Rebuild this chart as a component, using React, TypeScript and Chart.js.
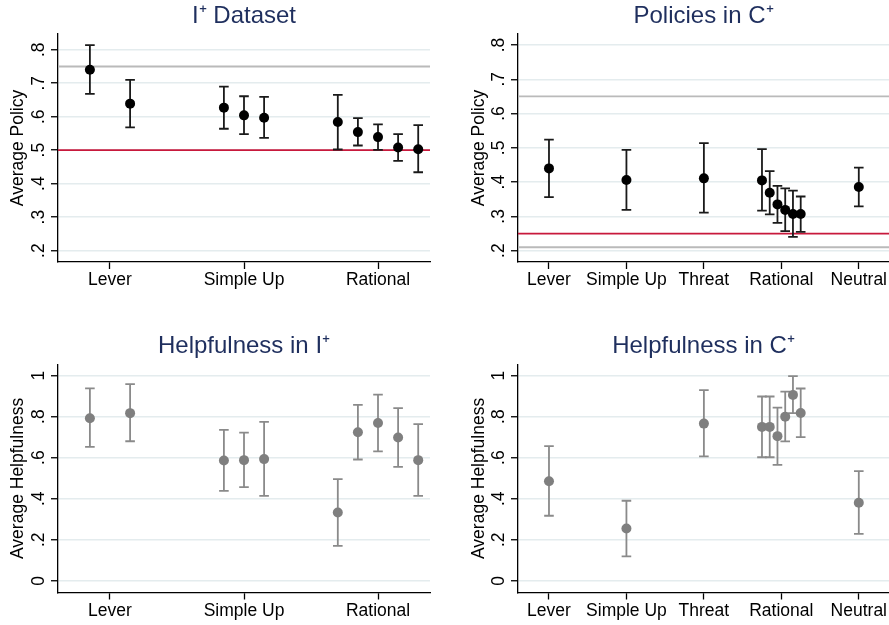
import React, { useEffect, useRef } from "react";
import { Chart, registerables } from "chart.js";

Chart.register(...registerables);

const FONT = '"Liberation Sans", Arial, Helvetica, sans-serif';

// ---------- data ----------
const categoriesI = ["Lever", "Simple Up", "Rational"];
const categoriesC = ["Lever", "Simple Up", "Threat", "Rational", "Neutral"];

// x positions of each estimate (category index with offsets)
const xI = [0.85, 1.15, 1.85, 2, 2.15, 2.7, 2.85, 3, 3.15, 3.3];
const xC = [1, 2, 3, 3.75, 3.85, 3.95, 4.05, 4.15, 4.25, 5];

// Panel 1: I+ Dataset (average policy)
const policyIMean = [0.74, 0.639, 0.627, 0.604, 0.597, 0.584, 0.554, 0.539, 0.508, 0.503];
const policyILow = [0.668, 0.568, 0.564, 0.548, 0.537, 0.502, 0.514, 0.501, 0.468, 0.434];
const policyIHigh = [0.814, 0.71, 0.69, 0.661, 0.659, 0.665, 0.596, 0.577, 0.548, 0.575];

// Panel 2: Policies in C+
const policyCMean = [0.44, 0.406, 0.411, 0.405, 0.369, 0.335, 0.319, 0.307, 0.307, 0.386];
const policyCLow = [0.356, 0.319, 0.311, 0.317, 0.306, 0.281, 0.257, 0.24, 0.255, 0.329];
const policyCHigh = [0.524, 0.494, 0.514, 0.496, 0.432, 0.389, 0.382, 0.375, 0.358, 0.442];

// Panel 3: Helpfulness in I+
const helpIMean = [0.792, 0.817, 0.586, 0.588, 0.593, 0.333, 0.724, 0.769, 0.698, 0.588];
const helpILow = [0.653, 0.68, 0.438, 0.456, 0.414, 0.17, 0.591, 0.631, 0.555, 0.414];
const helpIHigh = [0.938, 0.958, 0.735, 0.722, 0.774, 0.495, 0.857, 0.907, 0.841, 0.763];

// Panel 4: Helpfulness in C+
const helpCMean = [0.485, 0.255, 0.766, 0.75, 0.75, 0.705, 0.8, 0.906, 0.818, 0.38];
const helpCLow = [0.317, 0.119, 0.606, 0.602, 0.602, 0.565, 0.679, 0.817, 0.7, 0.229];
const helpCHigh = [0.656, 0.39, 0.929, 0.898, 0.898, 0.844, 0.922, 0.997, 0.937, 0.534];

// y tick values and labels
const policyTicks = [0.2, 0.3, 0.4, 0.5, 0.6, 0.7, 0.8];
const policyTickLabels = [".2", ".3", ".4", ".5", ".6", ".7", ".8"];
const helpTicks = [0, 0.2, 0.4, 0.6, 0.8, 1];
const helpTickLabels = ["0", ".2", ".4", ".6", ".8", "1"];

// reference lines
const refsIValues = [0.75, 0.5];
const refsIKinds = ["gray", "red"];
const refsCValues = [0.65, 0.25, 0.21];
const refsCKinds = ["gray", "red", "gray"];

// ---------- styles ----------
const TITLE_COLOR = "#1f2f5e";
const GRID_COLOR = "#e4ecee";
const REF_COLORS: Record<string, string> = { gray: "#bababa", red: "#c8193c" };

type Spec = {
  left: number;
  top: number;
  w: number;
  h: number;
  padRight: number;
  yW: number;
  xH: number;
  titlePadTop: number;
  titlePadBottom: number;
  yTitlePad: number;
  title: string;
  yTitle: string;
  cats: string[];
  xs: number[];
  mean: number[];
  low: number[];
  high: number[];
  xMin: number;
  xMax: number;
  yMin: number;
  yMax: number;
  yTicks: number[];
  yTickLabels: string[];
  refValues: number[];
  refKinds: string[];
  color: string;
  barColor: string;
};

const panels: Spec[] = [
  {
    left: 0, top: 0, w: 445, h: 312, padRight: 15, yW: 58, xH: 50,
    titlePadTop: 2.2, titlePadBottom: 3.0, yTitlePad: 7.5,
    title: "I\u207A Dataset", yTitle: "Average Policy", cats: categoriesI, xs: xI,
    mean: policyIMean, low: policyILow, high: policyIHigh,
    xMin: 0.612, xMax: 3.388, yMin: 0.166, yMax: 0.847,
    yTicks: policyTicks, yTickLabels: policyTickLabels,
    refValues: refsIValues, refKinds: refsIKinds, color: "#000000", barColor: "#1a1a1a",
  },
  {
    left: 445, top: 0, w: 444, h: 312, padRight: 0, yW: 73, xH: 50,
    titlePadTop: 2.2, titlePadBottom: 3.0, yTitlePad: 23.5,
    title: "Policies in C\u207A", yTitle: "Average Policy", cats: categoriesC, xs: xC,
    mean: policyCMean, low: policyCLow, high: policyCHigh,
    xMin: 0.6, xMax: 5.39, yMin: 0.167, yMax: 0.832,
    yTicks: policyTicks, yTickLabels: policyTickLabels,
    refValues: refsCValues, refKinds: refsCKinds, color: "#000000", barColor: "#1a1a1a",
  },
  {
    left: 0, top: 312, w: 445, h: 313, padRight: 15, yW: 58, xH: 32.5,
    titlePadTop: 20.3, titlePadBottom: 3.2, yTitlePad: 7.5,
    title: "Helpfulness in I\u207A", yTitle: "Average Helpfulness", cats: categoriesI, xs: xI,
    mean: helpIMean, low: helpILow, high: helpIHigh,
    xMin: 0.612, xMax: 3.388, yMin: -0.057, yMax: 1.055,
    yTicks: helpTicks, yTickLabels: helpTickLabels,
    refValues: [], refKinds: [], color: "#7f7f7f", barColor: "#8a8a8a",
  },
  {
    left: 445, top: 312, w: 444, h: 313, padRight: 0, yW: 73, xH: 32.5,
    titlePadTop: 20.3, titlePadBottom: 3.2, yTitlePad: 23.5,
    title: "Helpfulness in C\u207A", yTitle: "Average Helpfulness", cats: categoriesC, xs: xC,
    mean: helpCMean, low: helpCLow, high: helpCHigh,
    xMin: 0.6, xMax: 5.39, yMin: -0.057, yMax: 1.055,
    yTicks: helpTicks, yTickLabels: helpTickLabels,
    refValues: [], refKinds: [], color: "#7f7f7f", barColor: "#8a8a8a",
  },
];

function makeConfig(spec: Spec): any {
  const decor = {
    id: "panelDecor",
    beforeDatasetsDraw(chart: any) {
      const { ctx, chartArea } = chart;
      const xs = chart.scales.x;
      const ys = chart.scales.y;
      ctx.save();
      // reference lines
      spec.refValues.forEach((v, i) => {
        const py = ys.getPixelForValue(v);
        ctx.beginPath();
        ctx.strokeStyle = REF_COLORS[spec.refKinds[i]];
        ctx.lineWidth = 1.8;
        ctx.moveTo(chartArea.left, py);
        ctx.lineTo(chartArea.right, py);
        ctx.stroke();
      });
      // error bars
      ctx.strokeStyle = spec.barColor;
      ctx.lineWidth = 1.8;
      spec.xs.forEach((x, i) => {
        const px = xs.getPixelForValue(x);
        const lo = ys.getPixelForValue(spec.low[i]);
        const hi = ys.getPixelForValue(spec.high[i]);
        const cap = 4.8;
        ctx.beginPath();
        ctx.moveTo(px, lo);
        ctx.lineTo(px, hi);
        ctx.moveTo(px - cap, lo);
        ctx.lineTo(px + cap, lo);
        ctx.moveTo(px - cap, hi);
        ctx.lineTo(px + cap, hi);
        ctx.stroke();
      });
      ctx.restore();
    },
    afterDraw(chart: any) {
      const { ctx, chartArea } = chart;
      const ys = chart.scales.y;
      ctx.save();
      ctx.fillStyle = "#000";
      ctx.font = `17.5px ${FONT}`;
      ctx.textAlign = "center";
      ctx.textBaseline = "alphabetic";
      spec.yTicks.forEach((v, i) => {
        const py = ys.getPixelForValue(v);
        ctx.save();
        ctx.translate(chartArea.left - 14.5, py);
        ctx.rotate(-Math.PI / 2);
        ctx.fillText(spec.yTickLabels[i], 0, 0);
        ctx.restore();
      });
      ctx.restore();
    },
  };

  const noPad = (s: any) => {
    s.paddingLeft = 0;
    s.paddingRight = 0;
    s.paddingTop = 0;
    s.paddingBottom = 0;
  };

  return {
    type: "scatter",
    data: {
      datasets: [
        {
          data: spec.xs.map((x, i) => ({ x, y: spec.mean[i] })),
          pointRadius: 5,
          pointHoverRadius: 5,
          pointBorderWidth: 0,
          pointBackgroundColor: spec.color,
          backgroundColor: spec.color,
          borderColor: spec.color,
          showLine: false,
        },
      ],
    },
    options: {
      animation: false,
      responsive: false,
      devicePixelRatio: 1,
      events: [],
      layout: {
        autoPadding: false,
        padding: { left: 0, right: spec.padRight, top: 0, bottom: 0 },
      },
      plugins: {
        legend: { display: false },
        tooltip: { enabled: false },
        title: {
          display: true,
          text: spec.title,
          color: TITLE_COLOR,
          fullSize: false,
          font: { family: FONT, size: 24, weight: "normal", lineHeight: 1.2 },
          padding: { top: spec.titlePadTop, bottom: spec.titlePadBottom },
        },
      },
      scales: {
        x: {
          type: "linear",
          position: "bottom",
          min: spec.xMin,
          max: spec.xMax,
          afterFit: (s: any) => {
            s.height = spec.xH;
            noPad(s);
          },
          afterBuildTicks: (s: any) => {
            s.ticks = spec.cats.map((_, i) => ({ value: i + 1 }));
          },
          ticks: {
            autoSkip: false,
            minRotation: 0,
            maxRotation: 0,
            padding: 1,
            color: "#000",
            font: { family: FONT, size: 17.5, lineHeight: 1.2 },
            callback: (v: any) => spec.cats[Math.round(Number(v)) - 1] ?? "",
          },
          grid: {
            display: true,
            drawOnChartArea: false,
            drawTicks: true,
            tickLength: 7,
            tickColor: "#000",
            tickWidth: 1.3,
          },
          border: { display: true, color: "#000", width: 1.3 },
        },
        y: {
          type: "linear",
          position: "left",
          min: spec.yMin,
          max: spec.yMax,
          afterFit: (s: any) => {
            s.width = spec.yW;
            noPad(s);
          },
          afterBuildTicks: (s: any) => {
            s.ticks = spec.yTicks.map((v) => ({ value: v }));
          },
          ticks: { display: false },
          grid: {
            color: GRID_COLOR,
            lineWidth: 1.5,
            drawTicks: true,
            tickLength: 7,
            tickColor: "#000",
            tickWidth: 1.3,
          },
          border: { display: true, color: "#000", width: 1.3 },
          title: {
            display: true,
            text: spec.yTitle,
            color: "#000",
            font: { family: FONT, size: 17.5, lineHeight: 1.2 },
            padding: { top: spec.yTitlePad, bottom: 0 },
          },
        },
      },
    },
    plugins: [decor],
  };
}

function Panel({ spec }: { spec: Spec }) {
  const ref = useRef<HTMLCanvasElement>(null);
  useEffect(() => {
    if (!ref.current) return;
    const chart = new Chart(ref.current, makeConfig(spec));
    return () => chart.destroy();
  }, [spec]);
  return (
    <canvas
      ref={ref}
      width={spec.w}
      height={spec.h}
      style={{
        position: "absolute",
        left: spec.left,
        top: spec.top,
        width: spec.w,
        height: spec.h,
        display: "block",
      }}
    />
  );
}

export default function App() {
  return (
    <div
      style={{
        position: "fixed",
        left: 0,
        top: 0,
        width: 889,
        height: 625,
        background: "#ffffff",
        overflow: "hidden",
      }}
    >
      {panels.map((p, i) => (
        <Panel key={i} spec={p} />
      ))}
    </div>
  );
}
